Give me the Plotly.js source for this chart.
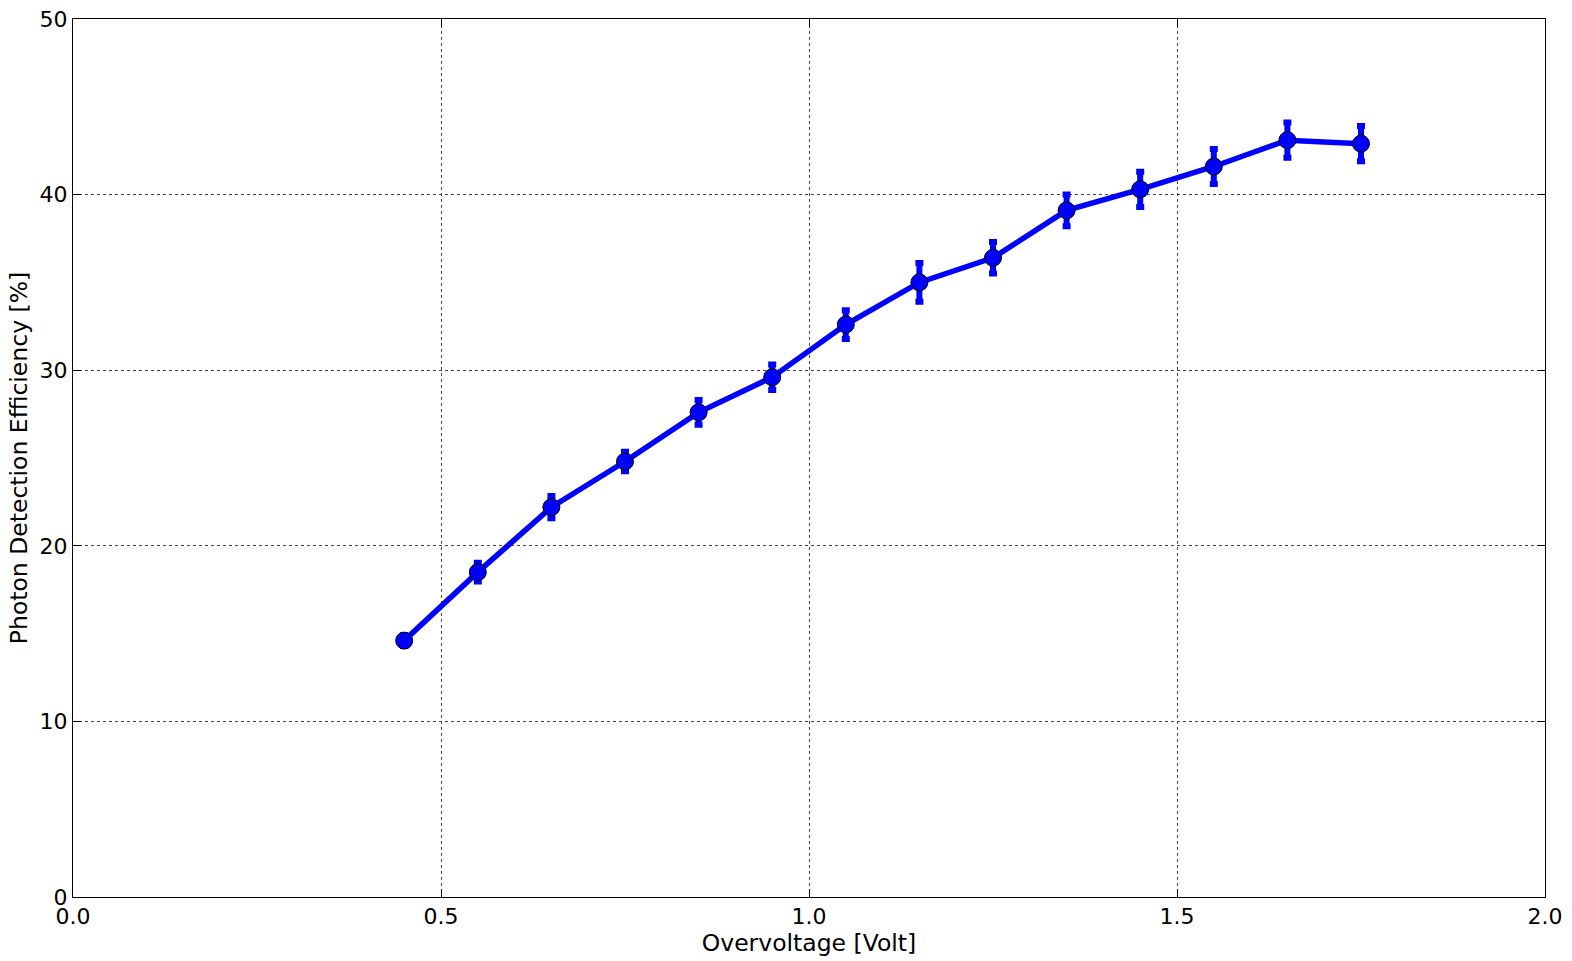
<!DOCTYPE html>
<html><head><meta charset="utf-8">
<script src="https://cdn.plot.ly/plotly-3.0.1.min.js"></script>
<style>html,body{margin:0;padding:0;background:#fff}#chart{width:1572px;height:961px}</style>
</head><body><div id="chart"></div>
<script>
const overvoltage = [0.45, 0.55, 0.65, 0.75, 0.85, 0.95, 1.05, 1.15, 1.25, 1.35, 1.45, 1.55, 1.65, 1.75];
const pde = [14.6, 18.5, 22.2, 24.8, 27.6, 29.6, 32.6, 35.0, 36.4, 39.1, 40.3, 41.6, 43.1, 42.9];
const pdeErr = [0.3, 0.53, 0.63, 0.55, 0.7, 0.73, 0.82, 1.1, 0.9, 0.9, 1.0, 1.0, 1.0, 1.0];

const tickFont = {family: 'DejaVu Sans', size: 22, color: '#000'};
const titleFont = {family: 'DejaVu Sans', size: 23.5, color: '#000'};
const trace = {
  x: overvoltage, y: pde, type: 'scatter', mode: 'lines+markers',
  line: {color: '#0000ff', width: 5.5},
  marker: {color: '#0000ff', size: 17, line: {color: '#000', width: 1}},
  error_y: {type: 'data', array: pdeErr, visible: true, color: '#0000ff', thickness: 6, width: 4}
};
const axisCommon = {
  showline: true, linecolor: '#000', linewidth: 1, mirror: 'allticks',
  ticks: 'inside', ticklen: 8, tickcolor: '#000', tickwidth: 1,
  showgrid: true, gridcolor: '#444', griddash: 'dot', gridwidth: 1,
  zeroline: false, tickfont: tickFont
};
const layout = {
  width: 1572, height: 961,
  margin: {l: 73, r: 27, t: 19, b: 64},
  paper_bgcolor: '#fff', plot_bgcolor: '#fff',
  showlegend: false, font: tickFont,
  xaxis: Object.assign({}, axisCommon, {
    range: [0, 2], tickvals: [0, 0.5, 1, 1.5, 2], tickformat: '.1f',
    title: {text: 'Overvoltage [Volt]', font: titleFont, standoff: 0}
  }),
  yaxis: Object.assign({}, axisCommon, {
    range: [0, 50], tickvals: [0, 10, 20, 30, 40, 50],
    title: {text: 'Photon Detection Efficiency [%]', font: titleFont, standoff: 5}
  })
};
Plotly.newPlot('chart', [trace], layout, {displayModeBar: false});
</script></body></html>
